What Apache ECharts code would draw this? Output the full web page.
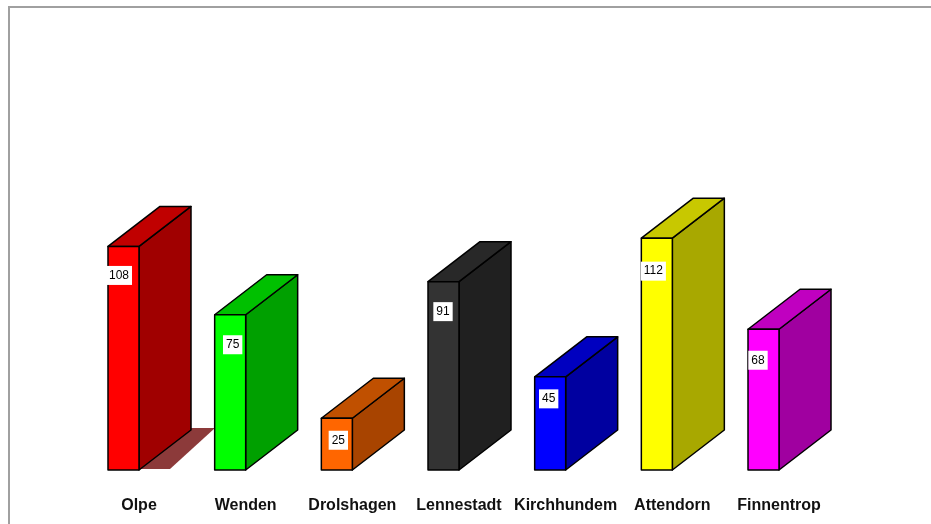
<!DOCTYPE html>
<html><head><meta charset="utf-8">
<style>html,body{margin:0;padding:0;background:#fff;overflow:hidden}#c{width:931px;height:524px;filter:blur(0.6px)}</style>
<script src="https://cdn.jsdelivr.net/npm/echarts@6/dist/echarts.min.js"></script>
</head><body><div id="c"></div>
<script>
const categories = ['Olpe','Wenden','Drolshagen','Lennestadt','Kirchhundem','Attendorn','Finnentrop'];
const values = [108,75,25,91,45,112,68];
const frontColors = ['#ff0000','#00ff00','#ff6600','#333333','#0000ff','#ffff00','#ff00ff'];
const topColors = ['#c00000','#00c000','#c05000','#282828','#0000c0','#c8c800','#c000c0'];
const sideColors = ['#a00000','#00a000','#a84400','#202020','#0000a0','#a8a800','#a000a0'];
const labelOffsetX = [-20,-13,-14,-16,-17,-19,-21];
const labelOffsetY = [29,30,22,30,22,33,31];
const BAR_W = 31, DX = 52, DY = 40;

function poly(points, fill, stroke) {
  return {type:'polygon', shape:{points}, style:{fill, stroke: stroke || '#000', lineWidth: 1.5, lineJoin:'round'}};
}
function renderItem(params, api) {
  const i = params.dataIndex;
  const base = api.coord([api.value(0), 0]);
  const top = api.coord([api.value(0), api.value(1)]);
  const xr = base[0], xl = xr - BAR_W, y0 = base[1], y1 = top[1];
  const children = [];
  if (i === 0) {
    children.push({type:'polygon', shape:{points:[[xr,y0-1],[xr+31,y0-1],[xr+76,y0-DY-2],[xr+DX,y0-DY-2]]},
      style:{fill:'#8c3a3a', stroke:'none'}});
  }
  children.push(poly([[xr,y0],[xr+DX,y0-DY],[xr+DX,y1-DY],[xr,y1]], sideColors[i]));
  children.push(poly([[xl,y1],[xr,y1],[xr+DX,y1-DY],[xl+DX,y1-DY]], topColors[i]));
  children.push(poly([[xl,y0],[xr,y0],[xr,y1],[xl,y1]], frontColors[i]));
  children.push({type:'text', z2:10,
    style:{text:String(api.value(1)), x:xr+labelOffsetX[i], y:y1+labelOffsetY[i], align:'center', verticalAlign:'middle',
      font:'12px "Liberation Sans"', fill:'#000', backgroundColor:'#fff', padding:[4,3,3,3]}});
  return {type:'group', children};
}
const chart = echarts.init(document.getElementById('c'), null, {renderer:'canvas'});
chart.setOption({
  animation:false,
  backgroundColor:'#fff',
  grid:{left:85.67, width:746.67, top:56, height:414},
  xAxis:{type:'category', data:categories, boundaryGap:true,
    axisLine:{show:false}, axisTick:{show:false}, splitLine:{show:false},
    axisLabel:{show:true, interval:0, margin:28, fontFamily:'Liberation Sans', fontWeight:'bold', fontSize:16, color:'#111'}},
  yAxis:{type:'value', min:0, max:200, show:false},
  graphic:[{type:'rect', silent:true, shape:{x:9,y:7,width:940,height:540}, style:{fill:'none', stroke:'#a0a0a0', lineWidth:2}}],
  series:[{type:'custom', renderItem, clip:false,
    data:categories.map((c,i)=>[i,values[i]]), encode:{x:0,y:1}}]
});
</script></body></html>
